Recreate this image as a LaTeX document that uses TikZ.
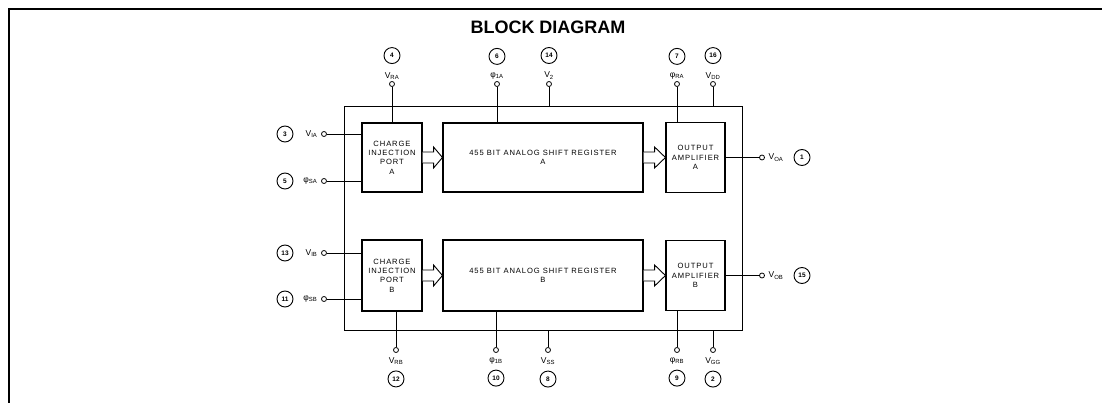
\documentclass[tikz,border=0pt]{standalone}
\usepackage{fontspec}
\setmainfont{Liberation Sans}
\usepackage{tikz}
\usetikzlibrary{positioning, calc}

\begin{document}
\begin{tikzpicture}[
        x=1pt, y=-1pt,
        blk/.style = {draw, line width=1.1pt, inner sep=0pt, align=center, font=\fontsize{7.6}{9.4}\selectfont\addfontfeature{LetterSpace=12}},
        chipbox/.style = {draw, line width=0.9pt, inner sep=0pt},
        padc/.style = {draw, circle, line width=0.8pt, minimum size=5pt, inner sep=0pt, fill=white},
        lbl/.style = {inner sep=0.5pt, font=\fontsize{8.5}{9}\selectfont},
        pinno/.style = {draw, circle, line width=0.9pt, minimum size=16pt, inner sep=0pt, font=\fontsize{6.5}{6.5}\selectfont\bfseries},
        wire/.style = {line width=0.9pt},
        busarrow/.style = {draw, line width=0.9pt, fill=white, line join=miter},
        frame/.style = {line width=2.2pt},
    ]
    \useasboundingbox (0,0) rectangle (1102,403);
    \draw[frame] (1102,9) -- (9,9) -- (9,403);
    \node[font=\fontsize{18}{18}\selectfont\bfseries] (title) at (548,27) {BLOCK DIAGRAM};

    % chip outline and blocks
    \node[chipbox, minimum width=398pt, minimum height=224pt] (chip) at (543,218) {};
    \node[blk, minimum width=60pt, minimum height=69pt] (cipA) at (392,157.5) {CHARGE\\INJECTION\\PORT\\A};
    \node[blk, minimum width=200pt, minimum height=69pt] (regA) at (543,157.5) {455 BIT ANALOG SHIFT REGISTER\\A};
    \node[blk, minimum width=59pt, minimum height=70pt] (ampA) at (695.5,157.5) {OUTPUT\\AMPLIFIER\\A};
    \node[blk, minimum width=60pt, minimum height=71pt] (cipB) at (392,275.5) {CHARGE\\INJECTION\\PORT\\B};
    \node[blk, minimum width=200pt, minimum height=71pt] (regB) at (543,275.5) {455 BIT ANALOG SHIFT REGISTER\\B};
    \node[blk, minimum width=59pt, minimum height=70pt] (ampB) at (695.5,275.5) {OUTPUT\\AMPLIFIER\\B};

    % hollow data arrows
    \foreach \a/\b in {cipA/regA, regA/ampA, cipB/regB, regB/ampB}
        \draw[busarrow] ($(\a.east)+(0,5.5)$) -- ++(11,0) -- ++(0,5) -- (\b.west)
            -- ($(\a.east)+(11,-10.5)$) -- ++(0,5) -- ($(\a.east)+(0,-5.5)$);

    % top pins
    \foreach \n/\lab/\x/\tgt in {4/{V\textsubscript{RA}}/392/cipA, 6/{φ\textsubscript{1A}}/497/regA,
            14/{V\textsubscript{2}}/549/chip, 7/{φ\textsubscript{RA}}/677/ampA, 16/{V\textsubscript{DD}}/713/chip} {
        \node[padc] (t\n) at (\x,84) {};
        \node[lbl, above=1pt of t\n] (l\n) {\lab};
        \node[pinno, above=7.5pt of l\n] (p\n) {\n};
        \draw[wire] (t\n) -- (t\n |- \tgt.north);
    }

    % bottom pins
    \foreach \n/\lab/\x/\tgt in {12/{V\textsubscript{RB}}/396/cipB, 10/{φ\textsubscript{1B}}/496/regB,
            8/{V\textsubscript{SS}}/548/chip, 9/{φ\textsubscript{RB}}/677/ampB, 2/{V\textsubscript{GG}}/713/chip} {
        \node[padc] (t\n) at (\x,350) {};
        \node[lbl, below=4pt of t\n] (l\n) {\lab};
        \node[pinno, below=5pt of l\n] (p\n) {\n};
        \draw[wire] (t\n) -- (t\n |- \tgt.south);
    }

    % left pins
    \foreach \n/\lab/\y/\tgt in {3/{V\textsubscript{IA}}/134/cipA, 5/{φ\textsubscript{SA}}/181/cipA,
            13/{V\textsubscript{IB}}/253/cipB, 11/{φ\textsubscript{SB}}/299/cipB} {
        \node[padc] (t\n) at (324,\y) {};
        \node[lbl, left=3pt of t\n] (l\n) {\lab};
        \node[pinno] (p\n) at (285,\y) {\n};
        \draw[wire] (t\n) -- (t\n -| \tgt.west);
    }

    % right pins
    \foreach \n/\lab/\y/\tgt in {1/{V\textsubscript{OA}}/157.5/ampA, 15/{V\textsubscript{OB}}/275.5/ampB} {
        \node[padc] (t\n) at (762,\y) {};
        \node[lbl, right=3pt of t\n] (l\n) {\lab};
        \node[pinno] (p\n) at (802,\y) {\n};
        \draw[wire] (\tgt.east) -- (t\n);
    }
\end{tikzpicture}
\end{document}
